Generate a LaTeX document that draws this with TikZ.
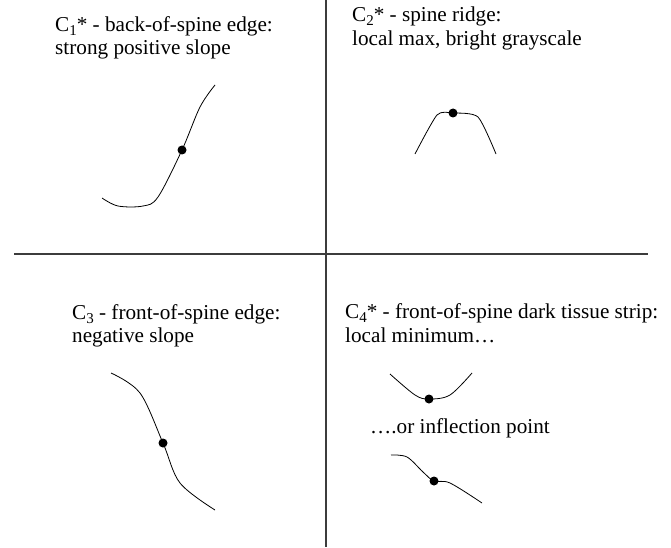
\documentclass[tikz,border=0pt]{standalone}
\usepackage{fontspec}
\setmainfont{Liberation Serif}
\usepackage{tikz}
\usetikzlibrary{positioning}
\definecolor{framegray}{RGB}{60,60,60}
\newcommand{\subidx}[1]{\raisebox{-4pt}{\fontsize{15}{15}\selectfont #1}}

\begin{document}
\begin{tikzpicture}[x=1pt, y=-1pt,
    lbl/.style={anchor=base west, inner sep=0pt, font=\fontsize{21.2}{23}\selectfont},
    divider/.style={draw=framegray, line width=1.6pt},
    curve/.style={draw=black, line width=0.8pt, smooth, tension=0.55},
    pt/.style={circle, fill=black, inner sep=0pt, minimum size=9pt}
]
\useasboundingbox (0,0) rectangle (671,548);
% quadrant dividers
\coordinate (vtop) at (326,0);
\coordinate (vbot) at (326,547);
\coordinate (hleft) at (14,254);
\coordinate (hright) at (648,254);
\draw[divider] (vtop) -- (vbot);
\draw[divider] (hleft) -- (hright);

% C1: back-of-spine edge
\node[lbl] (c1a) at (55,32) {C\subidx{1}* - back-of-spine edge:};
\node[lbl] (c1b) at (55,55) {strong positive slope};
\draw[curve] plot coordinates {(102,198) (118,206) (143,206) (158,197) (182,150) (200,107) (215,85)};
\node[pt] (p1) at (182,150) {};

% C2: spine ridge
\node[lbl] (c2a) at (352,22) {C\subidx{2}* - spine ridge:};
\node[lbl] (c2b) at (352,46) {local max, bright grayscale};
\draw[curve, tension=0.4] plot coordinates {(415,154) (437,115) (453,113) (478,117) (496,154)};
\node[pt] (p2) at (453,113) {};

% C3: front-of-spine edge
\node[lbl] (c3a) at (72,319) {C\subidx{3} - front-of-spine edge:};
\node[lbl] (c3b) at (72,342) {negative slope};
\draw[curve] plot coordinates {(111,373) (140,393) (163,443) (180,483) (215,510)};
\node[pt] (p3) at (163,443) {};

% C4: dark tissue strip
\node[lbl] (c4a) at (345,318) {C\subidx{4}* - front-of-spine dark tissue strip:};
\node[lbl] (c4b) at (345,342) {local minimum\ldots};
\draw[curve] plot coordinates {(390,374) (415,395) (429,399) (450,395) (472,373)};
\node[pt] (p4) at (429,399) {};
\node[lbl] (c4c) at (370,433) {\ldots.or inflection point};
\draw[curve] plot coordinates {(391,455) (407,457) (423,472) (434,481) (450,483) (482,503)};
\node[pt] (p5) at (434,481) {};
\end{tikzpicture}
\end{document}
